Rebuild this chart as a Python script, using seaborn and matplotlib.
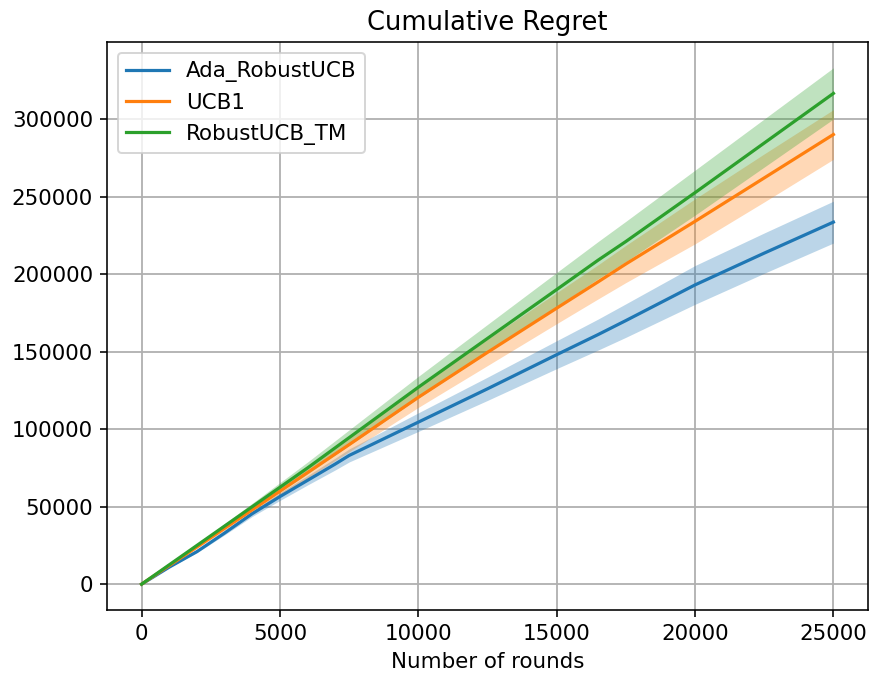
import numpy as np
import pandas as pd
import matplotlib
matplotlib.use("Agg")
import matplotlib.pyplot as plt
import seaborn as sns

rounds = [0, 1000, 2000, 3000, 4000, 5000, 6000, 7000, 7500, 10000,
          12500, 15000, 16500, 17500, 20000, 22500, 25000]

ada_mean = [0, 11000, 21000, 33000, 45500, 56500, 67000, 77500, 83000, 104500,
            126000, 148000, 161000, 170000, 193000, 213500, 233500]
ada_err = [0, 300, 700, 1200, 1800, 2500, 3000, 3800, 4200, 6000,
           7500, 9000, 10000, 10800, 12500, 13000, 13500]

ucb_mean = [0, 12000, 24000, 36000, 48000, 60000, 72000, 84000, 90000, 120500,
            149500, 178000, 195000, 206500, 234000, 262000, 290000]
ucb_err = [0, 400, 900, 1400, 2000, 2800, 3500, 4200, 4600, 6500,
           8500, 10000, 11000, 12000, 14500, 15500, 16000]

tm_mean = [0, 12500, 25000, 37500, 50000, 62500, 75000, 88000, 94500, 127000,
           158500, 190000, 209000, 221000, 252500, 284500, 316500]
tm_err = [0, 500, 1000, 1600, 2200, 3000, 3800, 4600, 5000, 7000,
          9000, 11000, 12000, 13000, 14500, 15500, 16500]

labels = ["Ada_RobustUCB", "UCB1", "RobustUCB_TM"]
colors = ["#1f77b4", "#ff7f0e", "#2ca02c"]

plt.rcParams["font.family"] = ["DejaVu Sans"]
plt.rcParams["font.size"] = 10.7

fig = plt.figure(figsize=(869 / 144, 677 / 144), dpi=144)
ax = fig.add_axes([107 / 869, 1 - 610 / 677, (868 - 107) / 869, (610 - 42) / 677])

series = [(ada_mean, ada_err), (ucb_mean, ucb_err), (tm_mean, tm_err)]
for (m, e), lab, col in zip(series, labels, colors):
    df = pd.DataFrame({"x": rounds, "y": m})
    sns.lineplot(data=df, x="x", y="y", ax=ax, color=col, label=lab, linewidth=1.6)
    lo = np.array(m) - np.array(e)
    hi = np.array(m) + np.array(e)
    ax.fill_between(rounds, lo, hi, color=col, alpha=0.3, linewidth=0)

ax.grid(True, color="#b0b0b0", linewidth=0.9)
ax.set_axisbelow(True)
ax.set_title("Cumulative Regret", fontsize=12.9)
ax.set_xlabel("Number of rounds", fontsize=10.7)
ax.set_ylabel("")
ax.set_xticks([0, 5000, 10000, 15000, 20000, 25000])
ax.set_yticks([0, 50000, 100000, 150000, 200000, 250000, 300000])
ax.tick_params(labelsize=10.7)
ax.set_xlim(-1250, 26250)
ax.set_ylim(-16650, 349650)
ax.legend(loc="upper left", fontsize=10.7)
for s in ax.spines.values():
    s.set_color("black")
    s.set_linewidth(0.8)

fig.savefig("out.png", dpi=144)
